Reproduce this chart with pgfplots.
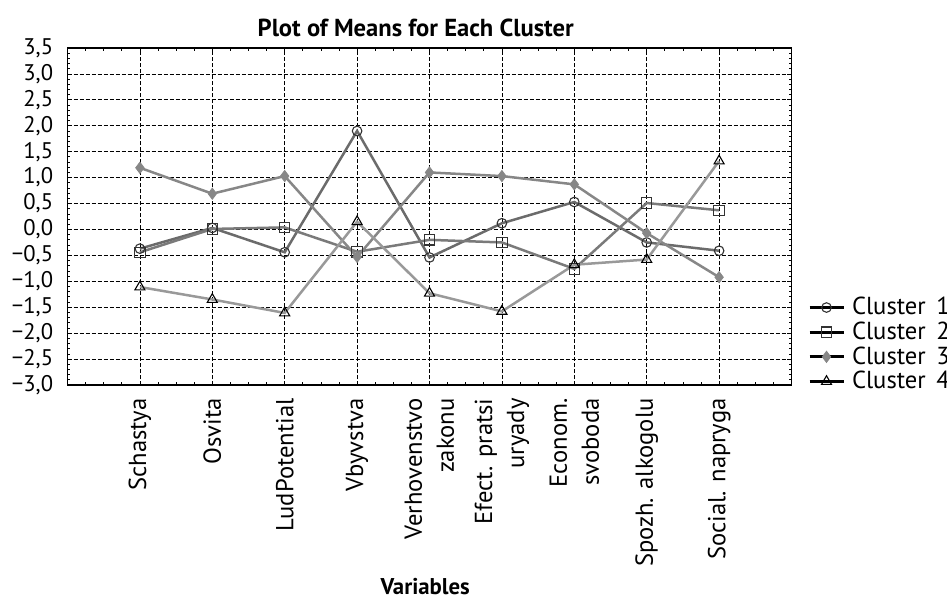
\documentclass[border=0pt]{standalone}
\usepackage{pgfplots}
\pgfplotsset{compat=1.18}
\usepackage{fontspec}
\setmainfont{PT Sans}
\definecolor{cA}{gray}{0.42}
\definecolor{cB}{gray}{0.48}
\definecolor{cC}{gray}{0.53}
\definecolor{cD}{gray}{0.60}
\begin{document}
\fontsize{10.5}{12.6}\selectfont
\begin{tikzpicture}
\useasboundingbox (0pt,0pt) rectangle (473.5pt,303.5pt);
\begin{axis}[
  at={(33.75pt,111pt)}, anchor=south west,
  scale only axis, width=362pt, height=168.5pt,
  xmin=0, xmax=10, ymin=-3, ymax=3.5,
  xtick={1,...,9},
  xticklabels={Schastya, Osvita, LudPotential, Vbyvstva, {Verhovenstvo\\zakonu}, {Efect. pratsi\\uryady}, {Econom.\\svoboda}, {Spozh. alkogolu}, {Social. napryga}},
  minor xtick={0.25,0.5,0.75,1.25,1.5,1.75,2.25,2.5,2.75,3.25,3.5,3.75,4.25,4.5,4.75,5.25,5.5,5.75,6.25,6.5,6.75,7.25,7.5,7.75,8.25,8.5,8.75,9.25,9.5,9.75},
  ytick={-3,-2.5,-2,-1.5,-1,-0.5,0,0.5,1,1.5,2,2.5,3,3.5},
  yticklabels={{−3,0},{−2,5},{−2,0},{−1,5},{−1,0},{−0,5},{0,0},{0,5},{1,0},{1,5},{2,0},{2,5},{3,0},{3,5}},
  minor y tick num=4,
  tick align=inside,
  major tick length=2.2pt, minor tick length=1.3pt,
  every tick/.style={black, line width=0.4pt},
  axis line style={black, line width=0.7pt},
  xmajorgrids, ymajorgrids,
  major grid style={black, line width=0.4pt, dash pattern=on 2pt off 1pt},
  xticklabel style={rotate=90, anchor=east, align=right, inner sep=0pt, font=\fontsize{12.3}{16}\selectfont},
  xticklabel shift=6.5pt,
  yticklabel style={anchor=east, inner sep=0pt, font=\fontsize{11.3}{12}\selectfont},
  yticklabel shift=7pt,
  title={\bfseries Plot of Means for Each Cluster},
  title style={at={(axis description cs:0.481,1.0234)}, anchor=center, yshift=0pt, font=\fontsize{12.3}{14}\selectfont},
  xlabel={\bfseries Variables},
  xlabel style={at={(axis description cs:0.494,-0.599)}, anchor=center, font=\fontsize{11.4}{13}\selectfont},
  legend style={at={(axis description cs:1.0228,0.1201)}, anchor=west, draw=none, fill=none, inner sep=0pt, outer sep=0pt,
    font=\fontsize{12.3}{14}\selectfont, row sep=-2pt},
  legend cell align=left,
  legend image code/.code={
    \draw[black, line width=1.5pt, mark=none] (0pt,0pt) -- (17pt,0pt);
    \draw[draw=none, mark repeat=2, mark phase=2] plot coordinates {(0pt,0pt) (8.5pt,0pt) (17pt,0pt)};
  },
  /tikz/every odd column/.append style={column sep=1.5pt},
]
\addplot[cA, line width=1.25pt, mark=o, mark size=2.4pt, mark options={draw=black!80, fill=none, line width=0.55pt}]
  coordinates {(1,-0.37) (2,0.03) (3,-0.44) (4,1.90) (5,-0.54) (6,0.12) (7,0.53) (8,-0.25) (9,-0.41)};
\addlegendentry{Cluster\ \,1}
\addplot[cB, line width=1.25pt, mark=square, mark size=2.6pt, mark options={draw=black!80, fill=none, line width=0.55pt}]
  coordinates {(1,-0.44) (2,0.01) (3,0.04) (4,-0.43) (5,-0.20) (6,-0.25) (7,-0.76) (8,0.51) (9,0.37)};
\addlegendentry{Cluster\ \,2}
\addplot[cC, line width=1.25pt, mark=diamond*, mark size=2.8pt, mark options={draw=cC, fill=cC, line width=0.4pt}]
  coordinates {(1,1.19) (2,0.69) (3,1.03) (4,-0.53) (5,1.10) (6,1.03) (7,0.87) (8,-0.07) (9,-0.92)};
\addlegendentry{Cluster\ \,3}
\addplot[cD, line width=1.25pt, mark=triangle, mark size=2.9pt, mark options={draw=black, fill=none, line width=0.55pt}]
  coordinates {(1,-1.11) (2,-1.35) (3,-1.61) (4,0.15) (5,-1.23) (6,-1.58) (7,-0.68) (8,-0.58) (9,1.32)};
\addlegendentry{Cluster\ \,4}
\end{axis}
\end{tikzpicture}
\end{document}
